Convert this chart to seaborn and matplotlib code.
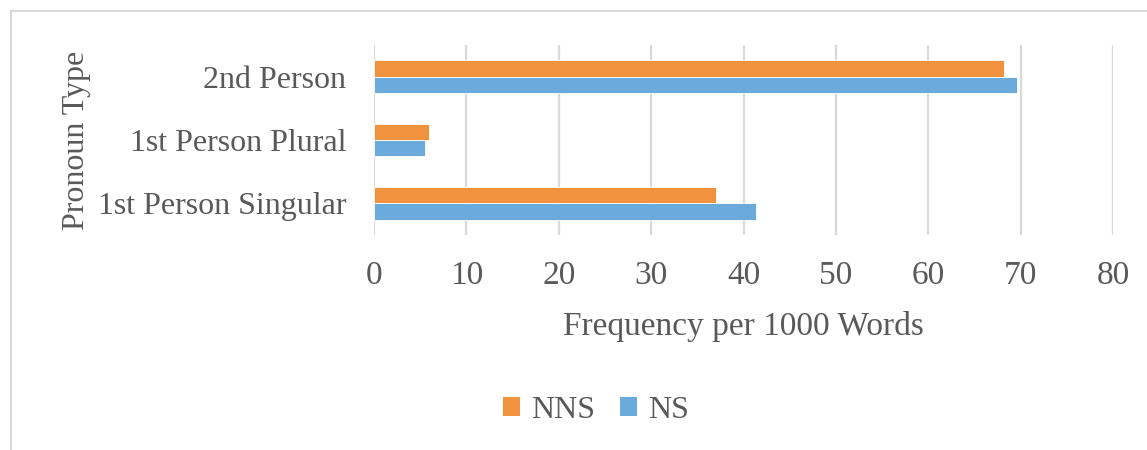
import matplotlib
matplotlib.use("Agg")
import matplotlib.pyplot as plt
from matplotlib.patches import Rectangle, Patch
import seaborn as sns
import pandas as pd

# values (frequency per 1000 words)
categories = ["2nd Person", "1st Person Plural", "1st Person Singular"]
groups = ["NNS", "NS"]
nns_values = [68.2, 5.95, 37.0]
ns_values = [69.6, 5.55, 41.4]
x_ticks = [0, 10, 20, 30, 40, 50, 60, 70, 80]

df = pd.DataFrame({
    "Pronoun Type": categories * 2,
    "Group": ["NNS"] * 3 + ["NS"] * 3,
    "Frequency": nns_values + ns_values,
})

sns.set_style("white")
plt.rcParams["font.family"] = ["Liberation Serif", "DejaVu Serif"]
text_color = "#595959"
palette = {"NNS": "#F1923F", "NS": "#6BABDB"}

fig = plt.figure(figsize=(11.47, 4.5), dpi=100)
ax = fig.add_axes([374 / 1147, 1 - 235 / 450, (1113 - 374) / 1147, 190 / 450])

sns.barplot(data=df, x="Frequency", y="Pronoun Type", hue="Group",
            order=categories, hue_order=groups, palette=palette,
            width=0.52, orient="h", ax=ax, legend=False,
            edgecolor="white", linewidth=0.6, saturation=1)

ax.set_xlim(0, 80)
ax.set_ylim(2.5, -0.5)
ax.set_xticks(x_ticks)
ax.set_xticklabels([str(t) for t in x_ticks])
ax.grid(axis="x", color="#D9D9D9", linewidth=1.6)
ax.set_axisbelow(True)
for s in ax.spines.values():
    s.set_visible(False)
ax.tick_params(axis="x", length=0, labelsize=24, labelcolor=text_color, pad=18)
ax.tick_params(axis="y", length=0, labelsize=23, labelcolor=text_color, pad=20)
ax.set_xlabel("Frequency per 1000 Words", fontsize=24, color=text_color, labelpad=15)
ax.set_ylabel("Pronoun Type", fontsize=23, color=text_color, labelpad=5)

handles = [Patch(facecolor=palette[g], edgecolor="none") for g in groups]
fig.legend(handles, groups, loc="center", bbox_to_anchor=(596 / 1147, 1 - 410 / 450),
           ncol=2, frameon=False, fontsize=23, labelcolor=text_color,
           handlelength=0.55, handleheight=0.55, handletextpad=0.35, columnspacing=0.75)

# light chart-area frame, cut off at the right and bottom
fig.patches.append(Rectangle((11 / 1147, -0.1), 1.2, 1 - 11 / 450 + 0.1,
                             transform=fig.transFigure, fill=False,
                             edgecolor="#D9D9D9", linewidth=1.5))

fig.savefig("out.png", dpi=100)
